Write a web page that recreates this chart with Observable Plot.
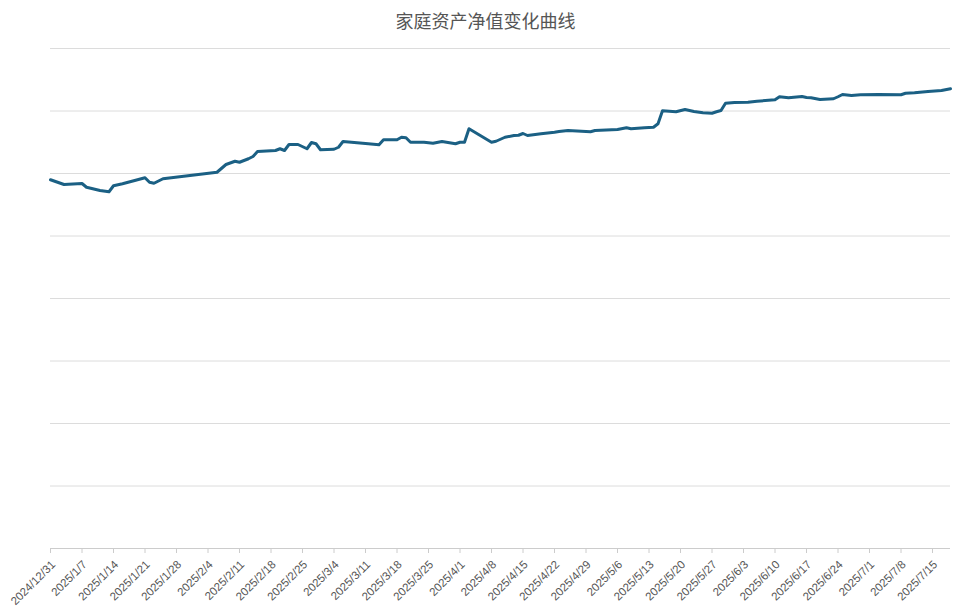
<!DOCTYPE html>
<html>
<head>
<meta charset="utf-8">
<script src="https://cdn.jsdelivr.net/npm/d3@7"></script>
<script src="https://cdn.jsdelivr.net/npm/@observablehq/plot@0.6"></script>
<style>
  body { margin: 0; background: #fff; font-family: "Liberation Sans", Arial, sans-serif; }
  #title { height: 40px; line-height: 40px; text-align: center; font-family: "Noto Sans CJK SC", sans-serif; font-size: 18px; color: #555; width: 971px; }
</style>
</head>
<body>
<div id="title">家庭资产净值变化曲线</div>
<div id="chart"></div>
<script>
const dates = [
  "2024-12-31","2025-01-03","2025-01-07","2025-01-08","2025-01-11","2025-01-13","2025-01-14","2025-01-16",
  "2025-01-21","2025-01-22","2025-01-23","2025-01-25","2025-02-06","2025-02-08","2025-02-10","2025-02-11",
  "2025-02-13","2025-02-14","2025-02-15","2025-02-19","2025-02-20","2025-02-21","2025-02-22","2025-02-24",
  "2025-02-26","2025-02-27","2025-02-28","2025-03-01","2025-03-04","2025-03-05","2025-03-06","2025-03-11",
  "2025-03-14","2025-03-15","2025-03-18","2025-03-19","2025-03-20","2025-03-21","2025-03-24","2025-03-26",
  "2025-03-28","2025-03-29","2025-03-31","2025-04-01","2025-04-02","2025-04-03","2025-04-08","2025-04-09",
  "2025-04-11","2025-04-13","2025-04-14","2025-04-15","2025-04-16","2025-04-19","2025-04-22","2025-04-23",
  "2025-04-25","2025-04-30","2025-05-01","2025-05-06","2025-05-08","2025-05-09","2025-05-12","2025-05-14",
  "2025-05-15","2025-05-16","2025-05-19","2025-05-21","2025-05-23","2025-05-25","2025-05-27","2025-05-28",
  "2025-05-29","2025-05-30","2025-06-01","2025-06-04","2025-06-06","2025-06-10","2025-06-11","2025-06-13",
  "2025-06-16","2025-06-17","2025-06-18","2025-06-20","2025-06-23","2025-06-24","2025-06-25","2025-06-27",
  "2025-06-29","2025-07-03","2025-07-08","2025-07-09","2025-07-11","2025-07-14","2025-07-17","2025-07-19"
];
const netWorth = [
  295.0,291.2,292.0,289.0,286.4,285.4,290.2,291.8,
  296.6,293.0,292.2,295.8,301.0,307.2,309.8,309.0,
  311.8,313.6,317.6,318.4,319.8,318.4,323.2,323.2,
  319.8,324.8,323.8,319.0,319.4,321.0,325.6,324.0,
  323.0,327.0,327.0,329.0,328.6,325.0,325.0,324.2,
  325.6,325.0,323.8,325.0,325.0,335.8,325.0,325.8,
  329.0,330.4,330.6,332.0,330.4,331.8,333.0,333.6,
  334.4,333.4,334.4,335.2,336.6,335.8,336.6,337.0,
  339.8,350.2,349.4,351.2,349.6,348.6,348.2,349.4,
  350.4,356.2,356.8,357.0,357.8,359.0,361.4,360.6,
  361.6,360.8,360.6,359.2,359.8,361.4,363.2,362.4,
  363.0,363.2,363.0,364.2,364.6,365.6,366.4,367.8
];
const tickLabels = [
  "2024/12/31","2025/1/7","2025/1/14","2025/1/21","2025/1/28","2025/2/4","2025/2/11","2025/2/18",
  "2025/2/25","2025/3/4","2025/3/11","2025/3/18","2025/3/25","2025/4/1","2025/4/8","2025/4/15",
  "2025/4/22","2025/4/29","2025/5/6","2025/5/13","2025/5/20","2025/5/27","2025/6/3","2025/6/10",
  "2025/6/17","2025/6/24","2025/7/1","2025/7/8","2025/7/15"
];
const yTicks = [0, 50, 100, 150, 200, 250, 300, 350, 400];

const parseSlash = s => { const [y, m, d] = s.split("/").map(Number); return new Date(Date.UTC(y, m - 1, d)); };
const data = dates.map((d, i) => ({date: new Date(d + "T00:00:00Z"), value: netWorth[i]}));
const ticks = tickLabels.map(s => ({date: parseSlash(s), label: s}));

const chart = Plot.plot({
  width: 971,
  height: 572,
  marginTop: 8,
  marginBottom: 64,
  marginLeft: 50,
  marginRight: 21,
  style: {fontFamily: "'Liberation Sans', Arial, sans-serif", fontSize: "11.5px", color: "#555", background: "#fff"},
  x: {type: "utc", domain: [new Date(Date.UTC(2024, 11, 31)), new Date(Date.UTC(2025, 6, 19))], axis: null},
  y: {domain: [0, 400], axis: null},
  marks: [
    Plot.gridY(yTicks, {stroke: "#dcdcdc", strokeOpacity: 1}),
    Plot.ruleY([0], {stroke: "#cccccc"}),
    Plot.axisX(ticks.map(d => d.date), {tickSize: 5, stroke: "#cccccc", tickFormat: () => "", label: null}),
    Plot.text(ticks, {x: "date", text: "label", frameAnchor: "bottom", rotate: -45, textAnchor: "end", lineAnchor: "middle", dx: 3, dy: 14, fill: "#555"}),
    Plot.line(data, {x: "date", y: "value", stroke: "#1b6084", strokeWidth: 3, strokeLinejoin: "round"})
  ]
});
document.getElementById("chart").appendChild(chart);
</script>
</body>
</html>
